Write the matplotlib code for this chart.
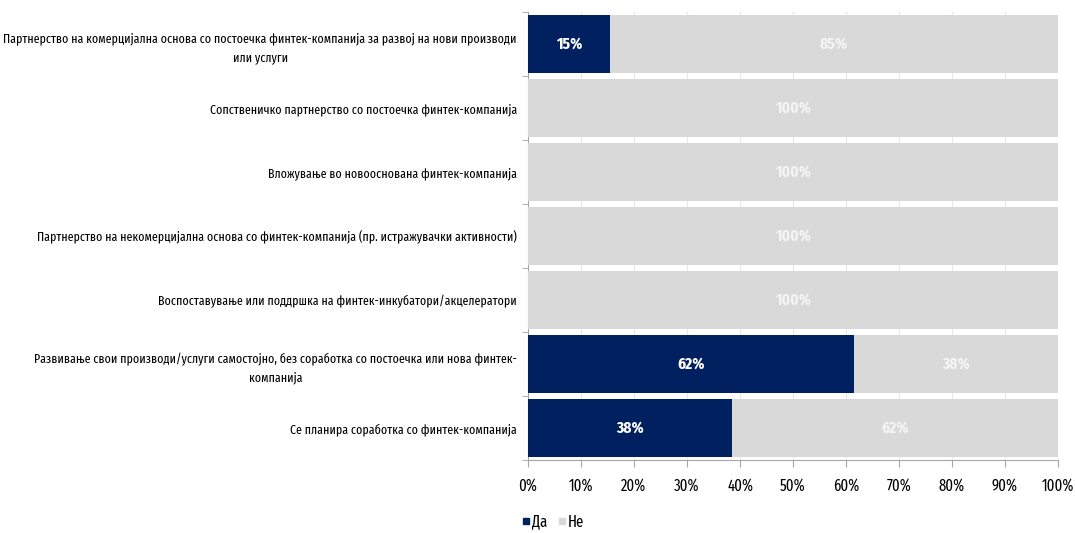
import matplotlib
matplotlib.use("Agg")
import matplotlib.pyplot as plt
from matplotlib.ticker import MultipleLocator, FuncFormatter
from matplotlib.lines import Line2D
import numpy as np

plt.rcParams['font.family'] = ['Fira Sans Extra Condensed', 'DejaVu Sans']

categories = [
    "Партнерство на комерцијална основа со постоечка финтек-компанија за развој на нови производи\nили услуги",
    "Сопственичко партнерство со постоечка финтек-компанија",
    "Вложување во новооснована финтек-компанија",
    "Партнерство на некомерцијална основа со финтек-компанија (пр. истражувачки активности)",
    "Воспоставување или поддршка на финтек-инкубатори/акцелератори",
    "Развивање свои производи/услуги самостојно, без соработка со постоечка или нова финтек-\nкомпанија",
    "Се планира соработка со финтек-компанија",
]
yes_vals = [15.4, 0.0, 0.0, 0.0, 0.0, 61.5, 38.5]
no_vals = [84.6, 100.0, 100.0, 100.0, 100.0, 38.5, 61.5]
series_names = ["Да", "Не"]
colors = ["#002060", "#D9D9D9"]

fig = plt.figure(figsize=(10.75, 5.33), dpi=100)
ax = fig.add_axes([528 / 1075, 1 - 460 / 533, 530 / 1075, 448 / 533])

y = np.arange(len(categories))
h = 0.91
ax.barh(y, yes_vals, height=h, color=colors[0], zorder=3)
ax.barh(y, no_vals, left=yes_vals, height=h, color=colors[1], zorder=3)

for i in range(len(categories)):
    if yes_vals[i] > 0:
        ax.text(yes_vals[i] / 2, y[i], f"{yes_vals[i]:.0f}%", ha="center", va="center",
                color="white", fontsize=12, fontweight="bold", zorder=4)
    if no_vals[i] > 0:
        ax.text(yes_vals[i] + no_vals[i] / 2, y[i], f"{no_vals[i]:.0f}%", ha="center",
                va="center", color="#F4F4F4", fontsize=12, fontweight="bold", zorder=4)

ax.set_xlim(0, 100)
ax.set_ylim(len(categories) - 0.5, -0.5)
ax.xaxis.set_major_locator(MultipleLocator(10))
ax.xaxis.set_major_formatter(FuncFormatter(lambda v, p: f"{v:.0f}%"))
ax.set_yticks(y)
ax.set_yticklabels(categories, fontsize=9.3, ha="right", multialignment="center",
                   linespacing=1.55)
ax.tick_params(axis="y", length=0, pad=8)
ax.set_yticks(np.arange(-0.5, len(categories)), minor=True)
ax.tick_params(axis="y", which="minor", length=4, color="#A6A6A6")
ax.tick_params(axis="x", length=5, color="#A6A6A6", labelsize=11.5, pad=8)

ax.grid(axis="x", color="#E6E6E6", linewidth=0.8, zorder=0)
for s in ["top", "right"]:
    ax.spines[s].set_visible(False)
for s in ["left", "bottom"]:
    ax.spines[s].set_color("#A6A6A6")

handles = [Line2D([], [], marker="s", linestyle="none", markersize=5, color=c) for c in colors]
fig.legend(handles, series_names, loc="center left", bbox_to_anchor=(513 / 1075, 1 - 522 / 533),
           ncol=2, frameon=False, fontsize=11.5, handletextpad=0.0, columnspacing=0.5,
           handlelength=0.8, borderaxespad=0)

fig.savefig("out.png", dpi=100)
